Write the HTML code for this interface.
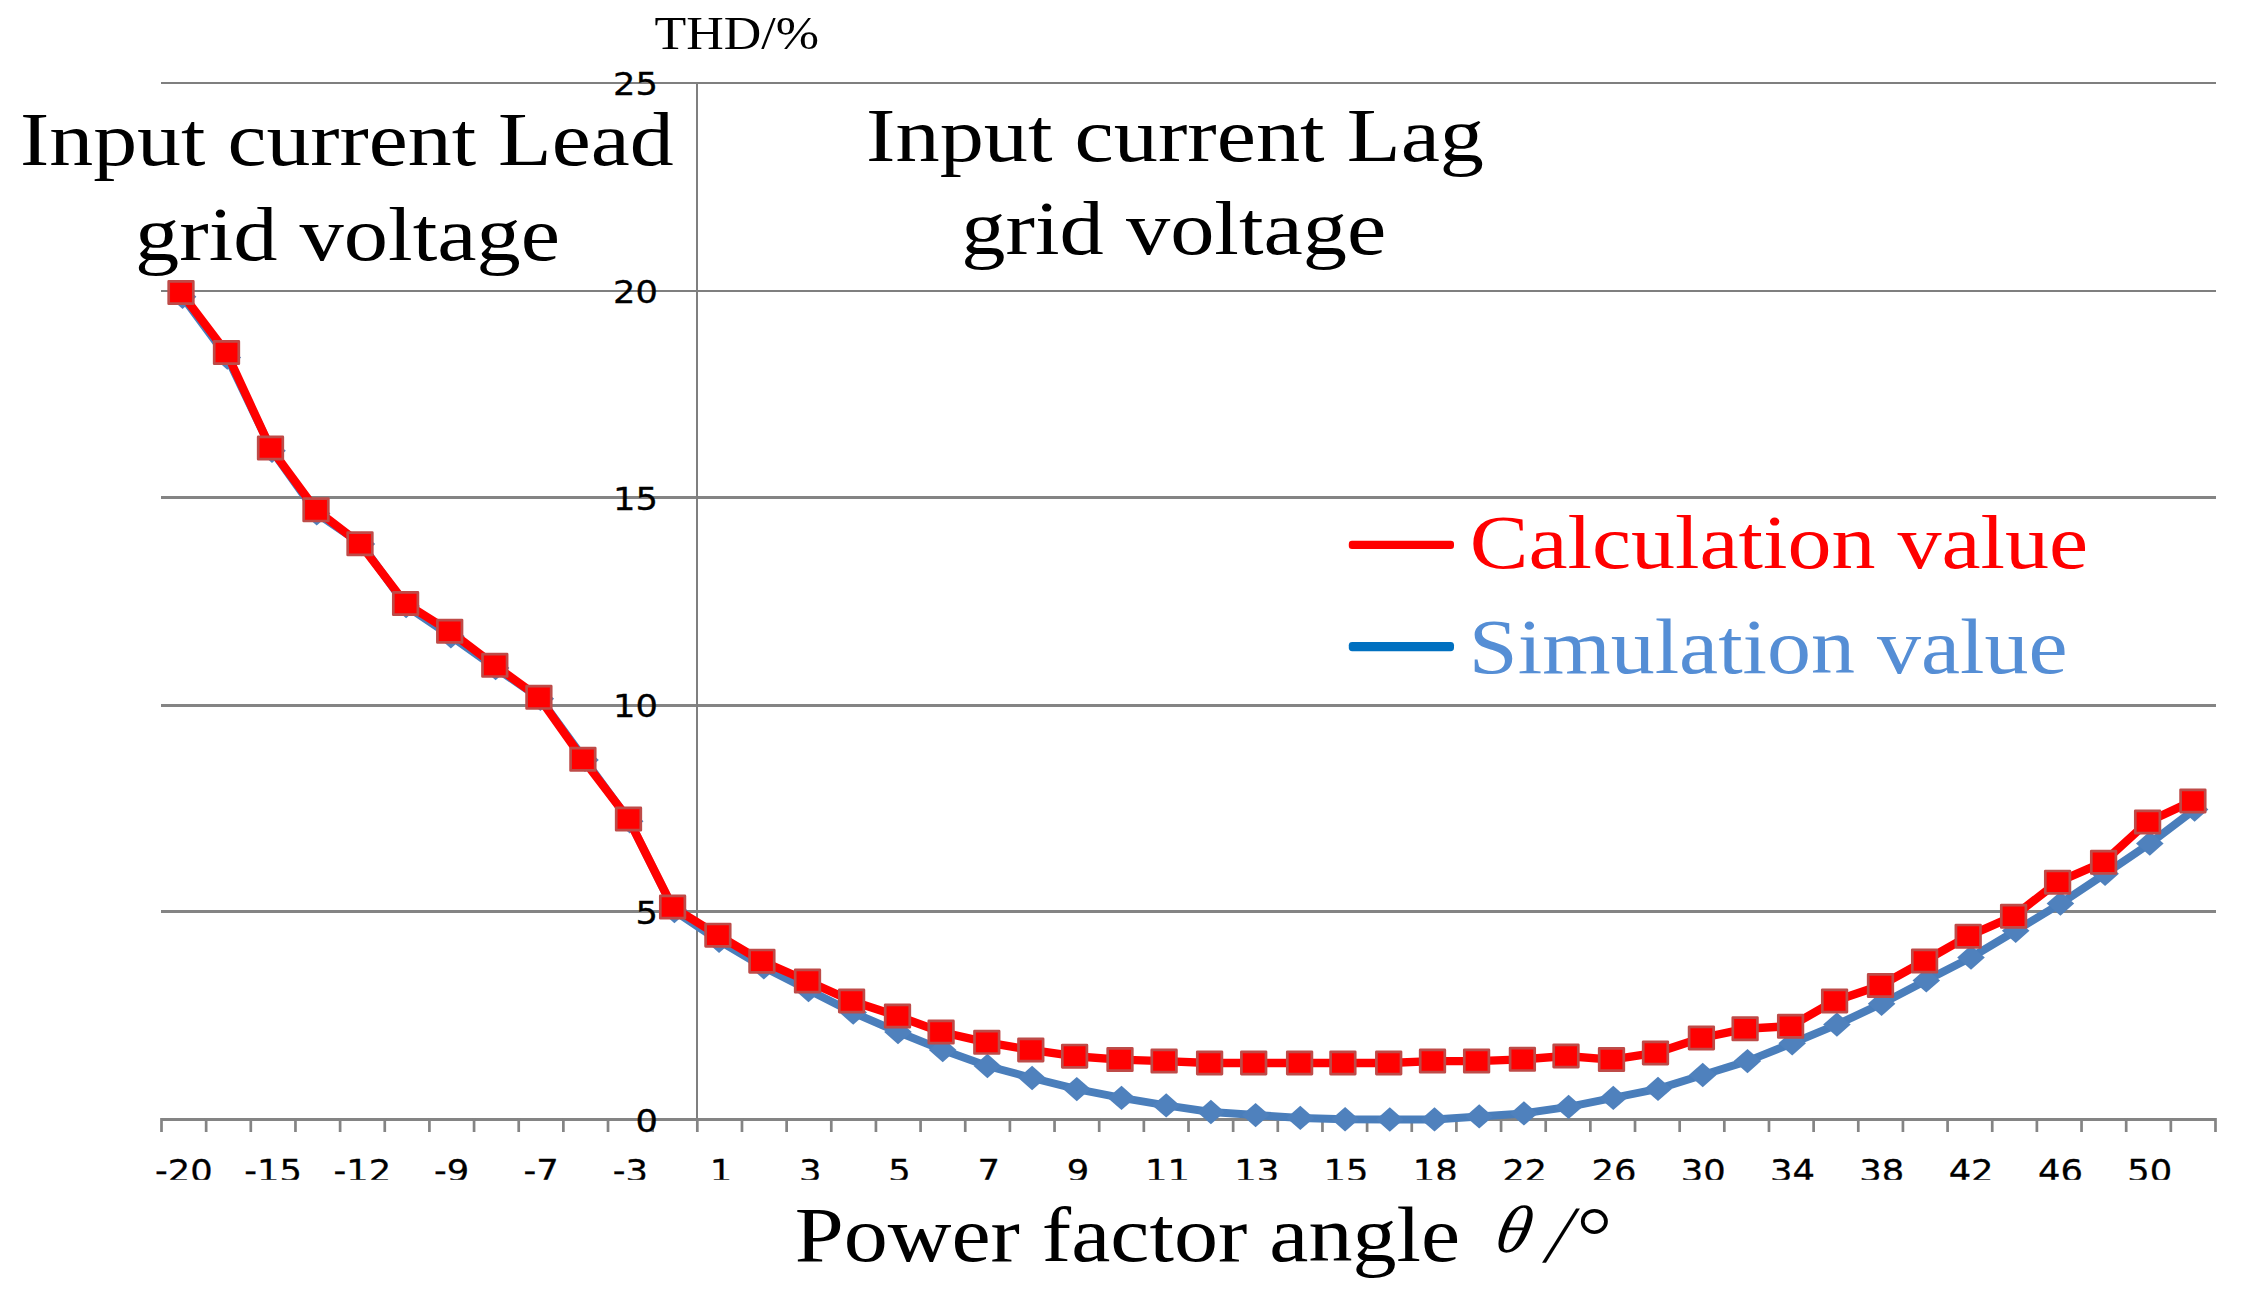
<!DOCTYPE html>
<html><head><meta charset="utf-8"><title>THD vs power factor angle</title>
<style>html,body{margin:0;padding:0;background:#fff}svg{display:block}.ser{font-family:"Liberation Serif",serif}.san{font-family:"DejaVu Sans","Liberation Sans",sans-serif}</style>
</head><body>
<svg width="2248" height="1295" viewBox="0 0 2248 1295">
<rect width="2248" height="1295" fill="#fff"/>
<rect x="161" y="82" width="2055" height="2" fill="#7F7F7F"/>
<rect x="161" y="290" width="2055" height="2" fill="#7F7F7F"/>
<rect x="161" y="496" width="2055" height="3" fill="#848484"/>
<rect x="161" y="704" width="2055" height="3" fill="#848484"/>
<rect x="161" y="910" width="2055" height="3" fill="#848484"/>
<rect x="696" y="82" width="2" height="1037" fill="#7F7F7F"/>
<rect x="161" y="1118" width="2055" height="3" fill="#848484"/>
<rect x="160.15" y="1118" width="2.7" height="14" fill="#848484"/>
<rect x="204.80" y="1118" width="2.7" height="14" fill="#848484"/>
<rect x="249.45" y="1118" width="2.7" height="14" fill="#848484"/>
<rect x="294.11" y="1118" width="2.7" height="14" fill="#848484"/>
<rect x="338.76" y="1118" width="2.7" height="14" fill="#848484"/>
<rect x="383.41" y="1118" width="2.7" height="14" fill="#848484"/>
<rect x="428.06" y="1118" width="2.7" height="14" fill="#848484"/>
<rect x="472.71" y="1118" width="2.7" height="14" fill="#848484"/>
<rect x="517.37" y="1118" width="2.7" height="14" fill="#848484"/>
<rect x="562.02" y="1118" width="2.7" height="14" fill="#848484"/>
<rect x="606.67" y="1118" width="2.7" height="14" fill="#848484"/>
<rect x="651.32" y="1118" width="2.7" height="14" fill="#848484"/>
<rect x="695.97" y="1118" width="2.7" height="14" fill="#848484"/>
<rect x="740.63" y="1118" width="2.7" height="14" fill="#848484"/>
<rect x="785.28" y="1118" width="2.7" height="14" fill="#848484"/>
<rect x="829.93" y="1118" width="2.7" height="14" fill="#848484"/>
<rect x="874.58" y="1118" width="2.7" height="14" fill="#848484"/>
<rect x="919.23" y="1118" width="2.7" height="14" fill="#848484"/>
<rect x="963.89" y="1118" width="2.7" height="14" fill="#848484"/>
<rect x="1008.54" y="1118" width="2.7" height="14" fill="#848484"/>
<rect x="1053.19" y="1118" width="2.7" height="14" fill="#848484"/>
<rect x="1097.84" y="1118" width="2.7" height="14" fill="#848484"/>
<rect x="1142.49" y="1118" width="2.7" height="14" fill="#848484"/>
<rect x="1187.15" y="1118" width="2.7" height="14" fill="#848484"/>
<rect x="1231.80" y="1118" width="2.7" height="14" fill="#848484"/>
<rect x="1276.45" y="1118" width="2.7" height="14" fill="#848484"/>
<rect x="1321.10" y="1118" width="2.7" height="14" fill="#848484"/>
<rect x="1365.75" y="1118" width="2.7" height="14" fill="#848484"/>
<rect x="1410.41" y="1118" width="2.7" height="14" fill="#848484"/>
<rect x="1455.06" y="1118" width="2.7" height="14" fill="#848484"/>
<rect x="1499.71" y="1118" width="2.7" height="14" fill="#848484"/>
<rect x="1544.36" y="1118" width="2.7" height="14" fill="#848484"/>
<rect x="1589.01" y="1118" width="2.7" height="14" fill="#848484"/>
<rect x="1633.67" y="1118" width="2.7" height="14" fill="#848484"/>
<rect x="1678.32" y="1118" width="2.7" height="14" fill="#848484"/>
<rect x="1722.97" y="1118" width="2.7" height="14" fill="#848484"/>
<rect x="1767.62" y="1118" width="2.7" height="14" fill="#848484"/>
<rect x="1812.27" y="1118" width="2.7" height="14" fill="#848484"/>
<rect x="1856.93" y="1118" width="2.7" height="14" fill="#848484"/>
<rect x="1901.58" y="1118" width="2.7" height="14" fill="#848484"/>
<rect x="1946.23" y="1118" width="2.7" height="14" fill="#848484"/>
<rect x="1990.88" y="1118" width="2.7" height="14" fill="#848484"/>
<rect x="2035.53" y="1118" width="2.7" height="14" fill="#848484"/>
<rect x="2080.19" y="1118" width="2.7" height="14" fill="#848484"/>
<rect x="2124.84" y="1118" width="2.7" height="14" fill="#848484"/>
<rect x="2169.49" y="1118" width="2.7" height="14" fill="#848484"/>
<rect x="2214.14" y="1118" width="2.7" height="14" fill="#848484"/>
<text class="san" transform="translate(657.9,95.3) scale(1.08,1)" font-size="32.7" text-anchor="end" fill="#000" stroke="#000" stroke-width="0.3">25</text>
<text class="san" transform="translate(657.9,303.2) scale(1.08,1)" font-size="32.7" text-anchor="end" fill="#000" stroke="#000" stroke-width="0.3">20</text>
<text class="san" transform="translate(657.9,509.6) scale(1.08,1)" font-size="32.7" text-anchor="end" fill="#000" stroke="#000" stroke-width="0.3">15</text>
<text class="san" transform="translate(657.9,716.8) scale(1.08,1)" font-size="32.7" text-anchor="end" fill="#000" stroke="#000" stroke-width="0.3">10</text>
<text class="san" transform="translate(657.9,923.9) scale(1.08,1)" font-size="32.7" text-anchor="end" fill="#000" stroke="#000" stroke-width="0.3">5</text>
<text class="san" transform="translate(657.9,1131.5) scale(1.08,1)" font-size="32.7" text-anchor="end" fill="#000" stroke="#000" stroke-width="0.3">0</text>
<text class="san" transform="translate(183.8,1182.2) scale(1.08,1)" font-size="32.7" text-anchor="middle" fill="#000" stroke="#000" stroke-width="0.3">-20</text>
<text class="san" transform="translate(273.1,1182.2) scale(1.08,1)" font-size="32.7" text-anchor="middle" fill="#000" stroke="#000" stroke-width="0.3">-15</text>
<text class="san" transform="translate(362.4,1182.2) scale(1.08,1)" font-size="32.7" text-anchor="middle" fill="#000" stroke="#000" stroke-width="0.3">-12</text>
<text class="san" transform="translate(451.7,1182.2) scale(1.08,1)" font-size="32.7" text-anchor="middle" fill="#000" stroke="#000" stroke-width="0.3">-9</text>
<text class="san" transform="translate(541.0,1182.2) scale(1.08,1)" font-size="32.7" text-anchor="middle" fill="#000" stroke="#000" stroke-width="0.3">-7</text>
<text class="san" transform="translate(630.3,1182.2) scale(1.08,1)" font-size="32.7" text-anchor="middle" fill="#000" stroke="#000" stroke-width="0.3">-3</text>
<text class="san" transform="translate(720.9,1182.2) scale(1.08,1)" font-size="32.7" text-anchor="middle" fill="#000" stroke="#000" stroke-width="0.3">1</text>
<text class="san" transform="translate(810.2,1182.2) scale(1.08,1)" font-size="32.7" text-anchor="middle" fill="#000" stroke="#000" stroke-width="0.3">3</text>
<text class="san" transform="translate(899.5,1182.2) scale(1.08,1)" font-size="32.7" text-anchor="middle" fill="#000" stroke="#000" stroke-width="0.3">5</text>
<text class="san" transform="translate(988.8,1182.2) scale(1.08,1)" font-size="32.7" text-anchor="middle" fill="#000" stroke="#000" stroke-width="0.3">7</text>
<text class="san" transform="translate(1078.1,1182.2) scale(1.08,1)" font-size="32.7" text-anchor="middle" fill="#000" stroke="#000" stroke-width="0.3">9</text>
<text class="san" transform="translate(1167.4,1182.2) scale(1.08,1)" font-size="32.7" text-anchor="middle" fill="#000" stroke="#000" stroke-width="0.3">11</text>
<text class="san" transform="translate(1256.7,1182.2) scale(1.08,1)" font-size="32.7" text-anchor="middle" fill="#000" stroke="#000" stroke-width="0.3">13</text>
<text class="san" transform="translate(1346.0,1182.2) scale(1.08,1)" font-size="32.7" text-anchor="middle" fill="#000" stroke="#000" stroke-width="0.3">15</text>
<text class="san" transform="translate(1435.3,1182.2) scale(1.08,1)" font-size="32.7" text-anchor="middle" fill="#000" stroke="#000" stroke-width="0.3">18</text>
<text class="san" transform="translate(1524.6,1182.2) scale(1.08,1)" font-size="32.7" text-anchor="middle" fill="#000" stroke="#000" stroke-width="0.3">22</text>
<text class="san" transform="translate(1613.9,1182.2) scale(1.08,1)" font-size="32.7" text-anchor="middle" fill="#000" stroke="#000" stroke-width="0.3">26</text>
<text class="san" transform="translate(1703.2,1182.2) scale(1.08,1)" font-size="32.7" text-anchor="middle" fill="#000" stroke="#000" stroke-width="0.3">30</text>
<text class="san" transform="translate(1792.5,1182.2) scale(1.08,1)" font-size="32.7" text-anchor="middle" fill="#000" stroke="#000" stroke-width="0.3">34</text>
<text class="san" transform="translate(1881.8,1182.2) scale(1.08,1)" font-size="32.7" text-anchor="middle" fill="#000" stroke="#000" stroke-width="0.3">38</text>
<text class="san" transform="translate(1971.1,1182.2) scale(1.08,1)" font-size="32.7" text-anchor="middle" fill="#000" stroke="#000" stroke-width="0.3">42</text>
<text class="san" transform="translate(2060.4,1182.2) scale(1.08,1)" font-size="32.7" text-anchor="middle" fill="#000" stroke="#000" stroke-width="0.3">46</text>
<text class="san" transform="translate(2149.7,1182.2) scale(1.08,1)" font-size="32.7" text-anchor="middle" fill="#000" stroke="#000" stroke-width="0.3">50</text>
<rect x="0" y="1179.8" width="2248" height="115.2" fill="#fff"/>
<polyline points="182.6,296.8 227.3,357.5 272.0,450.8 316.7,513.4 361.4,544.0 406.1,606.0 450.9,636.3 495.6,668.0 540.3,698.7 585.0,759.9 629.7,821.2 674.4,911.0 719.1,940.8 763.8,967.2 808.5,990.0 853.2,1012.6 898.0,1032.0 942.7,1050.0 987.4,1066.0 1032.1,1078.0 1076.8,1089.1 1121.5,1097.9 1166.2,1105.4 1210.9,1112.0 1255.6,1115.1 1300.3,1117.9 1345.1,1119.3 1389.8,1119.5 1434.5,1119.4 1479.2,1116.4 1523.9,1113.4 1568.6,1106.9 1613.3,1097.9 1658.0,1088.9 1702.7,1075.0 1747.5,1061.1 1792.2,1043.2 1836.9,1024.6 1881.6,1003.7 1926.3,980.4 1971.0,957.5 2015.7,930.8 2060.4,903.6 2105.1,873.8 2149.8,843.5 2194.6,809.5" fill="none" stroke="#4A7EBB" stroke-width="8" stroke-linejoin="round" stroke-linecap="round"/>
<path d="M168.8 296.8L182.6 284.6L196.4 296.8L182.6 309.0Z" fill="#4F81BD"/>
<path d="M213.5 357.5L227.3 345.3L241.1 357.5L227.3 369.7Z" fill="#4F81BD"/>
<path d="M258.2 450.8L272.0 438.6L285.8 450.8L272.0 463.0Z" fill="#4F81BD"/>
<path d="M302.9 513.4L316.7 501.2L330.5 513.4L316.7 525.6Z" fill="#4F81BD"/>
<path d="M347.6 544.0L361.4 531.8L375.2 544.0L361.4 556.2Z" fill="#4F81BD"/>
<path d="M392.3 606.0L406.1 593.8L419.9 606.0L406.1 618.2Z" fill="#4F81BD"/>
<path d="M437.1 636.3L450.9 624.1L464.7 636.3L450.9 648.5Z" fill="#4F81BD"/>
<path d="M481.8 668.0L495.6 655.8L509.4 668.0L495.6 680.2Z" fill="#4F81BD"/>
<path d="M526.5 698.7L540.3 686.5L554.1 698.7L540.3 710.9Z" fill="#4F81BD"/>
<path d="M571.2 759.9L585.0 747.7L598.8 759.9L585.0 772.1Z" fill="#4F81BD"/>
<path d="M615.9 821.2L629.7 809.0L643.5 821.2L629.7 833.4Z" fill="#4F81BD"/>
<path d="M660.6 911.0L674.4 898.8L688.2 911.0L674.4 923.2Z" fill="#4F81BD"/>
<path d="M705.3 940.8L719.1 928.6L732.9 940.8L719.1 953.0Z" fill="#4F81BD"/>
<path d="M750.0 967.2L763.8 955.0L777.6 967.2L763.8 979.4Z" fill="#4F81BD"/>
<path d="M794.7 990.0L808.5 977.8L822.3 990.0L808.5 1002.2Z" fill="#4F81BD"/>
<path d="M839.5 1012.6L853.2 1000.4L867.0 1012.6L853.2 1024.8Z" fill="#4F81BD"/>
<path d="M884.2 1032.0L898.0 1019.8L911.8 1032.0L898.0 1044.2Z" fill="#4F81BD"/>
<path d="M928.9 1050.0L942.7 1037.8L956.5 1050.0L942.7 1062.2Z" fill="#4F81BD"/>
<path d="M973.6 1066.0L987.4 1053.8L1001.2 1066.0L987.4 1078.2Z" fill="#4F81BD"/>
<path d="M1018.3 1078.0L1032.1 1065.8L1045.9 1078.0L1032.1 1090.2Z" fill="#4F81BD"/>
<path d="M1063.0 1089.1L1076.8 1076.9L1090.6 1089.1L1076.8 1101.3Z" fill="#4F81BD"/>
<path d="M1107.7 1097.9L1121.5 1085.7L1135.3 1097.9L1121.5 1110.1Z" fill="#4F81BD"/>
<path d="M1152.4 1105.4L1166.2 1093.2L1180.0 1105.4L1166.2 1117.6Z" fill="#4F81BD"/>
<path d="M1197.1 1112.0L1210.9 1099.8L1224.7 1112.0L1210.9 1124.2Z" fill="#4F81BD"/>
<path d="M1241.8 1115.1L1255.6 1102.9L1269.4 1115.1L1255.6 1127.3Z" fill="#4F81BD"/>
<path d="M1286.5 1117.9L1300.3 1105.7L1314.1 1117.9L1300.3 1130.1Z" fill="#4F81BD"/>
<path d="M1331.3 1119.3L1345.1 1107.1L1358.9 1119.3L1345.1 1131.5Z" fill="#4F81BD"/>
<path d="M1376.0 1119.5L1389.8 1107.3L1403.6 1119.5L1389.8 1131.7Z" fill="#4F81BD"/>
<path d="M1420.7 1119.4L1434.5 1107.2L1448.3 1119.4L1434.5 1131.6Z" fill="#4F81BD"/>
<path d="M1465.4 1116.4L1479.2 1104.2L1493.0 1116.4L1479.2 1128.6Z" fill="#4F81BD"/>
<path d="M1510.1 1113.4L1523.9 1101.2L1537.7 1113.4L1523.9 1125.6Z" fill="#4F81BD"/>
<path d="M1554.8 1106.9L1568.6 1094.7L1582.4 1106.9L1568.6 1119.1Z" fill="#4F81BD"/>
<path d="M1599.5 1097.9L1613.3 1085.7L1627.1 1097.9L1613.3 1110.1Z" fill="#4F81BD"/>
<path d="M1644.2 1088.9L1658.0 1076.7L1671.8 1088.9L1658.0 1101.1Z" fill="#4F81BD"/>
<path d="M1688.9 1075.0L1702.7 1062.8L1716.5 1075.0L1702.7 1087.2Z" fill="#4F81BD"/>
<path d="M1733.7 1061.1L1747.5 1048.9L1761.2 1061.1L1747.5 1073.3Z" fill="#4F81BD"/>
<path d="M1778.4 1043.2L1792.2 1031.0L1806.0 1043.2L1792.2 1055.4Z" fill="#4F81BD"/>
<path d="M1823.1 1024.6L1836.9 1012.4L1850.7 1024.6L1836.9 1036.8Z" fill="#4F81BD"/>
<path d="M1867.8 1003.7L1881.6 991.5L1895.4 1003.7L1881.6 1015.9Z" fill="#4F81BD"/>
<path d="M1912.5 980.4L1926.3 968.2L1940.1 980.4L1926.3 992.6Z" fill="#4F81BD"/>
<path d="M1957.2 957.5L1971.0 945.3L1984.8 957.5L1971.0 969.7Z" fill="#4F81BD"/>
<path d="M2001.9 930.8L2015.7 918.6L2029.5 930.8L2015.7 943.0Z" fill="#4F81BD"/>
<path d="M2046.6 903.6L2060.4 891.4L2074.2 903.6L2060.4 915.8Z" fill="#4F81BD"/>
<path d="M2091.3 873.8L2105.1 861.6L2118.9 873.8L2105.1 886.0Z" fill="#4F81BD"/>
<path d="M2136.0 843.5L2149.8 831.3L2163.6 843.5L2149.8 855.7Z" fill="#4F81BD"/>
<path d="M2180.8 809.5L2194.6 797.3L2208.4 809.5L2194.6 821.7Z" fill="#4F81BD"/>
<polyline points="181.0,292.5 226.5,352.5 270.5,448.0 316.0,509.8 360.0,543.7 405.6,603.5 449.7,631.2 494.8,665.4 538.9,697.4 582.9,759.2 628.5,819.0 672.6,907.0 717.9,935.1 761.9,961.1 807.5,981.0 851.6,1000.9 897.5,1016.0 941.1,1032.0 986.8,1042.4 1030.8,1049.9 1074.6,1056.2 1120.0,1059.6 1164.1,1061.1 1209.6,1063.0 1253.7,1063.0 1299.6,1063.0 1342.9,1063.0 1388.7,1063.0 1432.5,1061.1 1476.6,1061.1 1522.4,1059.4 1566.0,1056.0 1611.5,1059.6 1655.5,1052.9 1701.4,1038.0 1745.1,1028.8 1790.6,1026.2 1834.6,1000.9 1880.5,985.5 1924.6,961.0 1968.2,936.1 2013.6,916.2 2057.6,882.1 2103.6,862.2 2147.6,822.0 2192.9,800.9" fill="none" stroke="#FF0000" stroke-width="8.4" stroke-linejoin="round" stroke-linecap="round"/>
<rect x="168.7" y="281.4" width="24.6" height="22.3" fill="#FF0000" stroke="#BE4B48" stroke-width="2.7" stroke-linejoin="round"/>
<rect x="214.2" y="341.4" width="24.6" height="22.3" fill="#FF0000" stroke="#BE4B48" stroke-width="2.7" stroke-linejoin="round"/>
<rect x="258.2" y="436.9" width="24.6" height="22.3" fill="#FF0000" stroke="#BE4B48" stroke-width="2.7" stroke-linejoin="round"/>
<rect x="303.7" y="498.7" width="24.6" height="22.3" fill="#FF0000" stroke="#BE4B48" stroke-width="2.7" stroke-linejoin="round"/>
<rect x="347.7" y="532.6" width="24.6" height="22.3" fill="#FF0000" stroke="#BE4B48" stroke-width="2.7" stroke-linejoin="round"/>
<rect x="393.3" y="592.4" width="24.6" height="22.3" fill="#FF0000" stroke="#BE4B48" stroke-width="2.7" stroke-linejoin="round"/>
<rect x="437.4" y="620.1" width="24.6" height="22.3" fill="#FF0000" stroke="#BE4B48" stroke-width="2.7" stroke-linejoin="round"/>
<rect x="482.5" y="654.2" width="24.6" height="22.3" fill="#FF0000" stroke="#BE4B48" stroke-width="2.7" stroke-linejoin="round"/>
<rect x="526.6" y="686.2" width="24.6" height="22.3" fill="#FF0000" stroke="#BE4B48" stroke-width="2.7" stroke-linejoin="round"/>
<rect x="570.6" y="748.1" width="24.6" height="22.3" fill="#FF0000" stroke="#BE4B48" stroke-width="2.7" stroke-linejoin="round"/>
<rect x="616.2" y="807.9" width="24.6" height="22.3" fill="#FF0000" stroke="#BE4B48" stroke-width="2.7" stroke-linejoin="round"/>
<rect x="660.3" y="895.9" width="24.6" height="22.3" fill="#FF0000" stroke="#BE4B48" stroke-width="2.7" stroke-linejoin="round"/>
<rect x="705.6" y="924.0" width="24.6" height="22.3" fill="#FF0000" stroke="#BE4B48" stroke-width="2.7" stroke-linejoin="round"/>
<rect x="749.6" y="950.0" width="24.6" height="22.3" fill="#FF0000" stroke="#BE4B48" stroke-width="2.7" stroke-linejoin="round"/>
<rect x="795.2" y="969.9" width="24.6" height="22.3" fill="#FF0000" stroke="#BE4B48" stroke-width="2.7" stroke-linejoin="round"/>
<rect x="839.3" y="989.8" width="24.6" height="22.3" fill="#FF0000" stroke="#BE4B48" stroke-width="2.7" stroke-linejoin="round"/>
<rect x="885.2" y="1004.9" width="24.6" height="22.3" fill="#FF0000" stroke="#BE4B48" stroke-width="2.7" stroke-linejoin="round"/>
<rect x="928.8" y="1020.9" width="24.6" height="22.3" fill="#FF0000" stroke="#BE4B48" stroke-width="2.7" stroke-linejoin="round"/>
<rect x="974.5" y="1031.2" width="24.6" height="22.3" fill="#FF0000" stroke="#BE4B48" stroke-width="2.7" stroke-linejoin="round"/>
<rect x="1018.5" y="1038.8" width="24.6" height="22.3" fill="#FF0000" stroke="#BE4B48" stroke-width="2.7" stroke-linejoin="round"/>
<rect x="1062.3" y="1045.0" width="24.6" height="22.3" fill="#FF0000" stroke="#BE4B48" stroke-width="2.7" stroke-linejoin="round"/>
<rect x="1107.7" y="1048.4" width="24.6" height="22.3" fill="#FF0000" stroke="#BE4B48" stroke-width="2.7" stroke-linejoin="round"/>
<rect x="1151.8" y="1049.9" width="24.6" height="22.3" fill="#FF0000" stroke="#BE4B48" stroke-width="2.7" stroke-linejoin="round"/>
<rect x="1197.3" y="1051.8" width="24.6" height="22.3" fill="#FF0000" stroke="#BE4B48" stroke-width="2.7" stroke-linejoin="round"/>
<rect x="1241.4" y="1051.8" width="24.6" height="22.3" fill="#FF0000" stroke="#BE4B48" stroke-width="2.7" stroke-linejoin="round"/>
<rect x="1287.3" y="1051.8" width="24.6" height="22.3" fill="#FF0000" stroke="#BE4B48" stroke-width="2.7" stroke-linejoin="round"/>
<rect x="1330.6" y="1051.8" width="24.6" height="22.3" fill="#FF0000" stroke="#BE4B48" stroke-width="2.7" stroke-linejoin="round"/>
<rect x="1376.4" y="1051.8" width="24.6" height="22.3" fill="#FF0000" stroke="#BE4B48" stroke-width="2.7" stroke-linejoin="round"/>
<rect x="1420.2" y="1049.9" width="24.6" height="22.3" fill="#FF0000" stroke="#BE4B48" stroke-width="2.7" stroke-linejoin="round"/>
<rect x="1464.3" y="1049.9" width="24.6" height="22.3" fill="#FF0000" stroke="#BE4B48" stroke-width="2.7" stroke-linejoin="round"/>
<rect x="1510.1" y="1048.2" width="24.6" height="22.3" fill="#FF0000" stroke="#BE4B48" stroke-width="2.7" stroke-linejoin="round"/>
<rect x="1553.7" y="1044.8" width="24.6" height="22.3" fill="#FF0000" stroke="#BE4B48" stroke-width="2.7" stroke-linejoin="round"/>
<rect x="1599.2" y="1048.4" width="24.6" height="22.3" fill="#FF0000" stroke="#BE4B48" stroke-width="2.7" stroke-linejoin="round"/>
<rect x="1643.2" y="1041.8" width="24.6" height="22.3" fill="#FF0000" stroke="#BE4B48" stroke-width="2.7" stroke-linejoin="round"/>
<rect x="1689.1" y="1026.8" width="24.6" height="22.3" fill="#FF0000" stroke="#BE4B48" stroke-width="2.7" stroke-linejoin="round"/>
<rect x="1732.8" y="1017.6" width="24.6" height="22.3" fill="#FF0000" stroke="#BE4B48" stroke-width="2.7" stroke-linejoin="round"/>
<rect x="1778.3" y="1015.1" width="24.6" height="22.3" fill="#FF0000" stroke="#BE4B48" stroke-width="2.7" stroke-linejoin="round"/>
<rect x="1822.3" y="989.8" width="24.6" height="22.3" fill="#FF0000" stroke="#BE4B48" stroke-width="2.7" stroke-linejoin="round"/>
<rect x="1868.2" y="974.4" width="24.6" height="22.3" fill="#FF0000" stroke="#BE4B48" stroke-width="2.7" stroke-linejoin="round"/>
<rect x="1912.3" y="949.9" width="24.6" height="22.3" fill="#FF0000" stroke="#BE4B48" stroke-width="2.7" stroke-linejoin="round"/>
<rect x="1955.9" y="925.0" width="24.6" height="22.3" fill="#FF0000" stroke="#BE4B48" stroke-width="2.7" stroke-linejoin="round"/>
<rect x="2001.3" y="905.1" width="24.6" height="22.3" fill="#FF0000" stroke="#BE4B48" stroke-width="2.7" stroke-linejoin="round"/>
<rect x="2045.3" y="871.0" width="24.6" height="22.3" fill="#FF0000" stroke="#BE4B48" stroke-width="2.7" stroke-linejoin="round"/>
<rect x="2091.3" y="851.1" width="24.6" height="22.3" fill="#FF0000" stroke="#BE4B48" stroke-width="2.7" stroke-linejoin="round"/>
<rect x="2135.3" y="810.9" width="24.6" height="22.3" fill="#FF0000" stroke="#BE4B48" stroke-width="2.7" stroke-linejoin="round"/>
<rect x="2180.6" y="789.8" width="24.6" height="22.3" fill="#FF0000" stroke="#BE4B48" stroke-width="2.7" stroke-linejoin="round"/>
<rect x="1348.8" y="540.8" width="105.2" height="8.2" rx="3.2" fill="#FF0000"/>
<rect x="1348.8" y="641.9" width="105.2" height="9.3" rx="3.4" fill="#0070C0"/>
<text class="ser" x="654.5" y="49.4" font-size="47" textLength="164.5" lengthAdjust="spacingAndGlyphs" fill="#000">THD/%</text>
<text class="ser" x="20.0" y="165.2" font-size="76.5" textLength="653.7" lengthAdjust="spacingAndGlyphs" fill="#000">Input current Lead</text>
<text class="ser" x="135.0" y="260.2" font-size="76.5" textLength="425" lengthAdjust="spacingAndGlyphs" fill="#000">grid voltage</text>
<text class="ser" x="866.1" y="160.6" font-size="76.5" textLength="617.9" lengthAdjust="spacingAndGlyphs" fill="#000">Input current Lag</text>
<text class="ser" x="961.3" y="254.4" font-size="76.5" textLength="425" lengthAdjust="spacingAndGlyphs" fill="#000">grid voltage</text>
<text class="ser" x="1469.7" y="567.9" font-size="77" textLength="618.5" lengthAdjust="spacingAndGlyphs" fill="#FF0000">Calculation value</text>
<text class="ser" x="1468.8" y="672.9" font-size="78" textLength="598.8" lengthAdjust="spacingAndGlyphs" fill="#558ED5">Simulation value</text>
<text class="ser" x="794.7" y="1261.4" font-size="77.5" textLength="665.5" lengthAdjust="spacingAndGlyphs" fill="#000">Power factor angle</text>
<text class="ser" transform="translate(1492.8,1252) skewX(-12) scale(1.04,1)" font-size="67" font-style="italic" fill="#000">θ</text>
<text class="ser" transform="translate(1542.3,1262.4) skewX(-15.9)" font-size="81" fill="#000">/</text>
<text transform="translate(1569.2,1276.3) scale(1.08,1)" font-family="'DejaVu Sans Light','DejaVu Sans',sans-serif" font-weight="200" font-size="93" fill="#000">°</text>
</svg></body></html>
